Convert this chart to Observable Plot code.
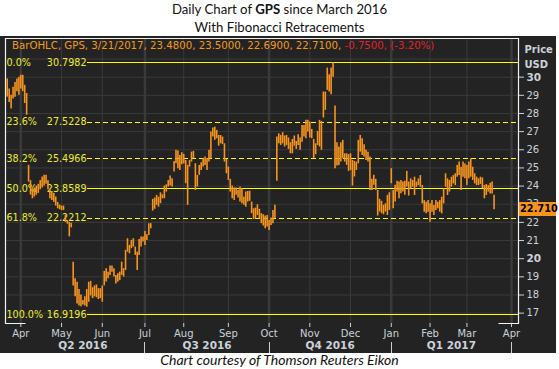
<!DOCTYPE html>
<html><head><meta charset="utf-8">
<script src="https://cdn.jsdelivr.net/npm/d3@7"></script>
<script src="https://cdn.jsdelivr.net/npm/@observablehq/plot@0.6"></script>
<style>
body{margin:0;background:#fff;width:559px;height:369px;overflow:hidden;font-family:Lato,sans-serif;color:#111}
#title{height:36px;text-align:center;font-size:13.2px}
#title div{line-height:18px}
#chart{width:556px;height:317px;background:#232323}
#chart svg{display:block}
#caption{text-align:center;font-style:italic;font-size:14px;line-height:14px;width:559px}
</style></head><body>
<div id="title"><div>Daily Chart of <b>GPS</b> since March 2016</div><div>With Fibonacci Retracements</div></div>
<div id="chart"></div>
<div id="caption">Chart courtesy of Thomson Reuters Eikon</div>
<script>
// Daily highs and lows, one per trading day from 3/22/2016 to 3/21/2017
const highs = [
29.9,29.35,29.0,29.45,29.7,29.9,30.0,30.1,30.1,29.55,29.1,25.14,24.3,23.8,23.9,24.0,24.1,24.3,24.5,24.6,
24.6,24.3,23.8,23.7,23.6,23.4,23.1,22.95,22.9,22.9,22.4,22.1,22.0,21.95,19.8,18.9,18.7,18.3,18.0,17.7,
17.9,18.3,18.7,18.75,18.4,18.5,18.55,18.35,18.35,18.5,19.3,19.45,19.26,19.6,19.6,19.45,19.08,19.17,19.26,19.81,
19.45,20.46,21.1,20.73,21.01,21.1,20.64,20.36,21.06,21.19,21.19,21.5,21.32,21.93,21.93,23.27,23.34,23.49,23.39,23.63,
23.52,24.0,24.07,24.31,24.55,24.4,25.36,25.97,25.93,25.69,25.84,25.75,25.41,25.14,25.41,25.87,25.91,25.23,24.59,25.14,
25.29,25.51,25.6,25.51,25.97,26.98,27.2,27.25,27.07,26.79,26.79,26.7,26.33,25.47,25.05,24.37,24.0,23.89,23.89,23.76,
23.95,23.85,23.39,23.67,23.71,23.71,23.12,22.75,22.79,22.97,22.72,22.48,22.42,22.35,22.38,22.11,22.24,22.66,22.94,26.7,
26.88,26.79,26.94,26.76,26.79,26.65,26.39,26.57,26.76,26.46,26.83,26.65,27.34,27.34,27.62,27.62,27.53,27.12,26.57,26.33,
27.01,27.62,27.56,29.18,29.18,30.5,30.13,30.5,30.8,28.41,26.39,26.15,26.39,26.52,25.78,25.78,25.73,25.78,25.41,25.36,
25.32,26.52,26.79,26.61,26.28,25.97,25.87,25.6,24.37,24.59,24.37,23.76,23.27,23.16,22.94,23.03,23.49,23.63,24.96,23.76,
24.04,24.26,24.22,24.31,24.22,24.26,24.81,24.22,24.4,24.31,24.49,24.22,24.4,24.58,24.03,23.2,23.11,23.2,23.02,23.2,
22.93,23.2,23.11,23.2,23.39,23.85,24.68,24.4,24.31,24.49,24.58,24.68,25.14,25.32,25.04,25.32,25.22,25.14,25.32,25.5,
25.04,24.68,24.49,24.4,24.49,24.45,24.03,24.09,24.03,24.16,24.22,23.5
];
const lows = [
28.9,28.6,28.25,28.8,28.9,29.2,29.0,29.35,29.2,28.55,27.9,24.22,23.5,23.3,23.4,23.5,23.6,23.8,23.9,24.0,
24.1,23.8,23.3,23.2,23.1,22.9,22.75,22.7,22.65,22.65,22.0,21.9,21.2,21.7,18.5,17.9,17.5,17.4,17.35,17.45,
17.4,17.33,17.6,17.95,17.8,17.9,17.85,17.75,17.8,17.6,18.5,18.71,18.9,19.08,19.26,18.99,18.6,18.71,18.79,19.08,
18.99,19.35,20.36,20.27,20.55,20.64,20.18,19.35,20.18,20.64,20.92,20.73,21.0,21.28,21.65,22.62,22.72,22.94,22.84,23.03,
23.3,23.3,23.67,23.95,24.0,23.95,24.77,25.23,24.96,24.86,25.18,25.23,24.13,22.94,25.05,25.32,25.51,23.76,23.95,24.59,
24.86,25.05,25.14,24.86,25.32,25.51,26.7,26.52,26.61,26.2,26.33,26.28,25.32,24.68,24.31,23.67,23.3,23.21,23.49,23.34,
23.12,23.03,22.94,22.84,23.12,23.16,22.48,22.16,22.2,22.38,22.2,21.93,21.8,21.65,21.74,21.56,21.83,21.93,22.2,24.26,
26.33,26.24,26.33,26.15,26.24,26.02,25.78,25.78,26.2,26.02,26.24,25.97,26.42,26.7,26.61,26.98,26.65,26.61,25.51,25.73,
26.24,26.15,25.97,27.75,28.17,29.27,29.18,29.03,30.0,24.96,25.1,25.14,25.32,25.51,25.32,25.14,24.81,24.86,24.0,24.5,
24.86,25.23,25.87,25.69,25.6,25.41,25.32,23.76,23.76,24.04,23.76,22.35,22.57,22.48,22.42,22.57,22.38,22.66,24.13,22.75,
23.12,23.67,23.3,23.58,23.67,23.49,23.95,23.45,23.85,23.94,23.48,23.94,24.03,23.94,23.02,22.56,22.47,22.56,22.01,22.56,
22.38,22.66,22.75,22.56,22.47,23.02,23.94,23.48,23.67,23.94,24.12,24.03,24.49,24.58,23.76,24.49,24.4,24.03,24.4,24.49,
24.31,24.12,24.03,24.03,24.09,23.85,23.3,23.48,23.67,23.57,23.57,22.69
];
// Axis ticks (trading-day index of each month's first session)
const monthLabels = ["Apr","May","Jun","Jul","Aug","Sep","Oct","Nov","Dec","Jan","Feb","Mar","Apr"];
const monthStarts = [7,28,49,71,91,114,135,156,177,198,218,237,260];
const quarterLabels = ["Q2 2016","Q3 2016","Q4 2016","Q1 2017"];
const quarterBounds = [7,71,135,198,260];
const priceTicks = [17,18,19,20,21,22,23,24,25,26,27,28,29,30];
// Fibonacci retracements
const fibPcts = ["0.0%","23.6%","38.2%","50.0%","61.8%","100.0%"];
const fibLevels = [30.7982,27.5228,25.4966,23.8589,22.2212,16.9196];
const fibDashed = [false,true,true,false,true,false];
// Last bar legend
const lastDate = "3/21/2017";
const lastOHLC = [23.48,23.50,22.69,22.71];
const lastChange = -0.75;
const lastPct = -3.20;

const ORANGE = "#f7941e", YELLOW = "#ffff00", FIBTXT = "#eeee30", AXIS = "#cbd2da", GRID = "#3a3a3a";
const bars = highs.map((h, i) => ({i, high: h, low: lows[i]}));
const fibs = fibLevels.map((level, k) => ({level, pct: fibPcts[k], dashed: fibDashed[k]}));
const lastClose = lastOHLC[3];

function fibLines(index, scales, values, dims) {
  const g = d3.create("svg:g");
  const labelW = 82;
  fibs.forEach(f => {
    const y = Math.round(scales.y(f.level)) + 0.5;
    g.append("line").attr("x1", dims.marginLeft + labelW).attr("x2", dims.width - dims.marginRight)
      .attr("y1", y).attr("y2", y).attr("stroke", YELLOW).attr("stroke-width", 1.2)
      .attr("stroke-dasharray", f.dashed ? "5,3" : null);
  });
  return g.node();
}
function frameLines(index, scales, values, dims) {
  const g = d3.create("svg:g").attr("stroke", "#f2f2f2").attr("stroke-width", 1.2).attr("fill", "none");
  const l = dims.marginLeft + 0.5, r = dims.width - dims.marginRight + 0.5, t = dims.marginTop + 0.5, b = dims.height - dims.marginBottom + 0.5;
  g.append("path").attr("d", `M${l+20},${b}H${l}V${t}H${r}V${b}H${r-20}`);
  return g.node();
}
function quarterSeps(index, scales, values, dims) {
  const g = d3.create("svg:g").attr("stroke", "#cfcfcf").attr("stroke-width", 1);
  quarterBounds.slice(1).forEach(q => {
    const x = Math.round(scales.x(q)) + 0.5;
    g.append("line").attr("x1", x).attr("x2", x).attr("y1", dims.height - 11).attr("y2", dims.height);
  });
  return g.node();
}
function legendText(index, scales, values, dims) {
  const t = d3.create("svg:text").attr("x", dims.marginLeft + 7).attr("y", dims.marginTop + 8)
    .attr("dy", "0.32em").attr("font-size", 10.2).attr("font-family", "DejaVu Sans").attr("text-anchor", "start");
  t.append("tspan").attr("fill", "#f39a1e").text(`BarOHLC, GPS, ${lastDate}, ${lastOHLC.map(v => v.toFixed(4)).join(", ")}, `);
  t.append("tspan").attr("fill", "#e8202a").text(`${lastChange.toFixed(4)}, (${lastPct.toFixed(2)}%)`);
  return t.node();
}
function lastTag(index, scales, values, dims) {
  const g = d3.create("svg:g");
  const y = scales.y(lastClose);
  const x0 = dims.width - dims.marginRight + 1;
  g.append("rect").attr("x", x0).attr("y", Math.round(y) - 7).attr("width", dims.width - x0).attr("height", 14).attr("fill", ORANGE);
  g.append("text").attr("x", x0 + 1).attr("y", y).attr("dy", "0.35em").attr("font-weight", "bold").attr("text-anchor", "start")
    .attr("font-size", 9.8).attr("font-family", "DejaVu Sans").attr("fill", "#000").text(lastClose.toFixed(3));
  return g.node();
}

const chart = Plot.plot({
  width: 556, height: 317,
  marginTop: 2, marginBottom: 30, marginLeft: 5, marginRight: 38,
  style: {background: "#232323", color: AXIS, fontFamily: "DejaVu Sans", fontSize: "10px", overflow: "visible"},
  x: {domain: [-0.9, 263.6], axis: null, label: null},
  y: {domain: [16.43, 32.13], axis: null, label: null},
  marks: [
    Plot.ruleY(d3.range(17, 32), {stroke: GRID}),
    Plot.ruleX(monthStarts, {stroke: GRID}),
    Plot.ruleX(quarterBounds, {stroke: GRID, strokeWidth: 2.5}),
    fibLines,
    Plot.text(fibs, {frameAnchor: "left", y: "level", text: "pct", textAnchor: "start", dx: 1, fill: FIBTXT, fontSize: 9.6}),
    Plot.text(fibs, {frameAnchor: "left", y: "level", text: d => d.level.toFixed(4), textAnchor: "end", dx: 81, fill: FIBTXT, fontSize: 9.6}),
    Plot.ruleX(bars, {x: "i", y1: "low", y2: "high", stroke: ORANGE, strokeWidth: 1.6}),
    Plot.axisY(priceTicks.filter(t => t % 10 !== 0), {anchor: "right", tickSize: 5, tickPadding: 3, label: null}),
    Plot.axisY(priceTicks.filter(t => t % 10 === 0), {anchor: "right", tickSize: 5, tickPadding: 3, fontWeight: "bold", fontSize: 10.5, label: null}),
    Plot.axisX(monthStarts, {anchor: "bottom", tickSize: 4, tickPadding: 2, label: null, tickFormat: d => monthLabels[monthStarts.indexOf(d)]}),
    Plot.text(quarterLabels, {x: (d, k) => (quarterBounds[k] + quarterBounds[k + 1]) / 2, frameAnchor: "bottom", dy: 25, fontWeight: "bold", fontSize: 10.5, fill: AXIS}),
    quarterSeps,
    frameLines,
    legendText,
    Plot.text(["Price"], {frameAnchor: "top-right", dx: 6, dy: 7, textAnchor: "start", fill: AXIS, fontWeight: "bold", fontSize: 10}),
    Plot.text(["USD"], {frameAnchor: "top-right", dx: 6, dy: 22, textAnchor: "start", fill: AXIS, fontWeight: "bold", fontSize: 10}),
    lastTag
  ]
});
document.getElementById("chart").append(chart);
</script>
</body></html>
